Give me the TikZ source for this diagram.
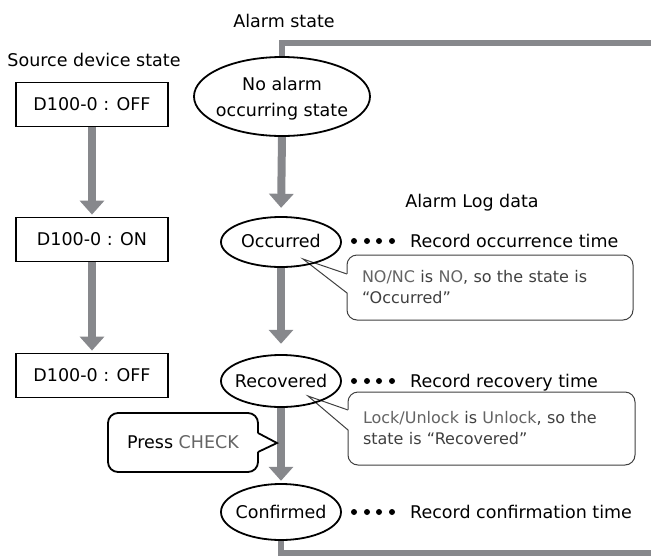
\documentclass[tikz,border=0pt]{standalone}
\usepackage{fontspec}
\setmainfont{DejaVu Sans}
\usetikzlibrary{arrows.meta,shapes.geometric}
\definecolor{flowgray}{RGB}{135,136,140}
\definecolor{notegray}{RGB}{64,64,64}
\definecolor{keygray}{RGB}{100,100,100}
\begin{document}
\begin{tikzpicture}[x=1pt,y=-1pt,
  every node/.style={inner sep=0pt},
  font=\fontsize{17.5}{21}\selectfont,
  statebox/.style={draw, line width=1.8pt, minimum width=152pt, minimum height=44pt},
  stateell/.style={draw, ellipse, line width=1.8pt, minimum width=120pt},
  flow/.style={draw=flowgray, line width=8pt, -{Triangle[width=24pt,length=14pt]}},
  rail/.style={draw=flowgray, line width=6pt, line cap=butt, line join=miter},
  note/.style={draw=notegray, line width=1pt, fill=white, rounded corners=10pt,
    font=\fontsize{16}{21}\selectfont, text=notegray, align=left},
  pointer/.style={draw=notegray, line width=1pt},
  presscall/.style={draw, line width=1.8pt, fill=white, rounded corners=10pt},
  dot/.style={fill=black}]
\useasboundingbox (0,0) rectangle (651,555);

% titles
\node (lblalarm) at (284,21) {Alarm state};
\node (lblsrc) at (94,60) {Source device state};
\node[anchor=base] (lbllog) at (472,207.5) {Alarm Log data};

% source device states
\node[statebox] (b1) at (92,104.5) {D100-0 : OFF};
\node[statebox] (b2) at (92,239.5) {D100-0 : ON};
\node[statebox] (b3) at (92,375.5) {D100-0 : OFF};
\draw[flow, shorten >=2pt] (b1.south) -- (b2.north);
\draw[flow, shorten >=2pt] (b2.south) -- (b3.north);

% callout 1
\node[note, minimum width=286pt, minimum height=65pt, text width=256pt] (c1) at (490,287.5)
  {{\color{keygray}NO/NC} is {\color{keygray}NO}, so the state is\\“Occurred”};
\coordinate (c1tip) at (303,259);
\coordinate (c1a) at (347,274);
\coordinate (c1b) at (347,293);
\fill[white] (348,274) -- (c1tip) -- (348,293) -- cycle;
\draw[pointer] (c1a) -- (c1tip) -- (c1b);

% callout 2
\node[note, minimum width=287pt, minimum height=73pt, text width=257pt] (c2) at (491.5,428.5)
  {{\color{keygray}Lock/Unlock} is {\color{keygray}Unlock}, so the\\state is “Recovered”};
\coordinate (c2tip) at (308,396);
\coordinate (c2a) at (348,410);
\coordinate (c2b) at (348,430);
\fill[white] (349,410) -- (c2tip) -- (349,430) -- cycle;
\draw[pointer] (c2a) -- (c2tip) -- (c2b);

% alarm state ellipses (shapes)
\path (282,96.5) node[ellipse, minimum width=176pt, minimum height=79pt] (e0) {};
\path (281,242) node[ellipse, minimum width=120pt, minimum height=50pt] (occ) {};
\path (281,381) node[ellipse, minimum width=120pt, minimum height=52pt] (rec) {};
\path (281,512) node[ellipse, minimum width=120pt, minimum height=56pt] (conf) {};

% rails and arrows
\coordinate (topend) at (651,42.5);
\coordinate (botend) at (651,553);
\draw[rail] (e0.north) |- (topend);
\draw[rail] (conf.south) |- (botend);
\draw[flow, shorten >=9pt] (e0.south) -- (occ.north);
\draw[flow, shorten >=11pt] (occ.south) -- (rec.north);
\draw[flow, shorten >=3pt] (rec.south) -- (conf.north);

% press check callout
\node[presscall, minimum width=150pt, minimum height=59pt] (pc) at (183,442.5)
  {Press {\color{keygray}CHECK}};
\coordinate (pctip) at (277,443);
\coordinate (pca) at (258,433);
\coordinate (pcb) at (258,452);
\fill[white] (257,433) -- (pctip) -- (257,452) -- cycle;
\draw[line width=1.8pt, line join=miter] (pca) -- (pctip) -- (pcb);

% ellipse borders and texts
\draw[line width=1.8pt] (e0.center) ellipse [x radius=88pt, y radius=39.5pt];
\draw[line width=1.8pt] (occ.center) ellipse [x radius=60pt, y radius=25pt];
\draw[line width=1.8pt] (rec.center) ellipse [x radius=60pt, y radius=26pt];
\draw[line width=1.8pt] (conf.center) ellipse [x radius=60pt, y radius=28pt];
\node[align=center, font=\fontsize{17.5}{26}\selectfont] (e0t) at (282,99) {No alarm\\occurring state};
\node[anchor=base] (occt) at (281,247.5) {Occurred};
\node[anchor=base] (rect) at (281,387.5) {Recovered};
\node[anchor=base] (conft) at (281,518.5) {Confirmed};

% log records
\foreach \yy/\txt/\nm in {241/Record occurrence time/r1, 381/Record recovery time/r2, 512/Record confirmation time/r3}{
  \foreach \xx in {354,367,379,392}{\fill[dot] (\xx,\yy) circle[radius=3pt];}
  \node[anchor=base west] (\nm) at (410,\yy+6.5) {\txt};
}
\end{tikzpicture}
\end{document}
